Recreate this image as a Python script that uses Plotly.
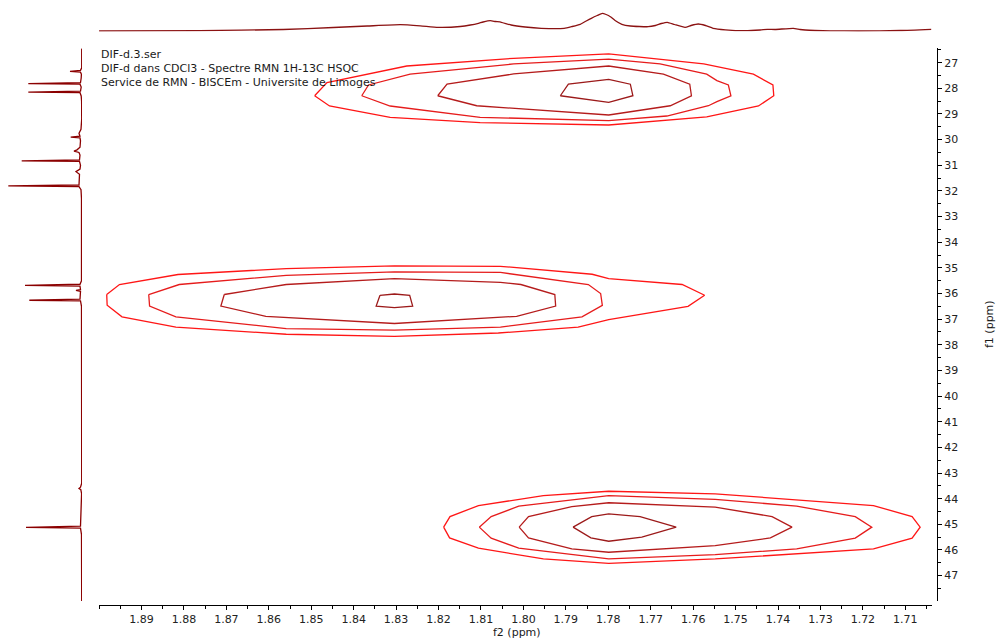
import plotly.graph_objects as go

W, H = 999, 639
FONT = "DejaVu Sans, Verdana, sans-serif"

# ---------------- axis ticks ----------------
X_TICKS = [1.71, 1.72, 1.73, 1.74, 1.75, 1.76, 1.77, 1.78, 1.79, 1.80,
           1.81, 1.82, 1.83, 1.84, 1.85, 1.86, 1.87, 1.88, 1.89]
X_MINOR = [1.705, 1.715, 1.725, 1.735, 1.745, 1.755, 1.765, 1.775, 1.785, 1.795,
           1.805, 1.815, 1.825, 1.835, 1.845, 1.855, 1.865, 1.875, 1.885, 1.895, 1.900]
Y_TICKS = [27, 28, 29, 30, 31, 32, 33, 34, 35, 36, 37, 38, 39, 40, 41, 42, 43, 44, 45, 46, 47]
Y_MINOR = [26.5, 27.5, 28.5, 29.5, 30.5, 31.5, 32.5, 33.5, 34.5, 35.5, 36.5, 37.5,
           38.5, 39.5, 40.5, 41.5, 42.5, 43.5, 44.5, 45.5, 46.5, 47.5]

# ---------------- contour polygons (f2 ppm, f1 ppm) ----------------
# cross peak 1  (~1.78 / 28.3)
P1_L1_F2 = [1.8492, 1.8463, 1.8275, 1.8023, 1.7799, 1.7575, 1.7458, 1.7412, 1.7410, 1.7446, 1.7568, 1.7799, 1.8102, 1.8314, 1.8457]
P1_L1_F1 = [28.29, 27.78, 27.13, 26.83, 26.66, 27.05, 27.45, 27.87, 28.29, 28.69, 29.11, 29.43, 29.34, 29.13, 28.69]
P1_L2_F2 = [1.8381, 1.8365, 1.8267, 1.8023, 1.7799, 1.7678, 1.7568, 1.7544, 1.7517, 1.7511, 1.7544, 1.7564, 1.7662, 1.7799, 1.8102, 1.8314]
P1_L2_F1 = [28.29, 27.87, 27.45, 27.05, 26.86, 27.05, 27.45, 27.70, 27.87, 28.29, 28.52, 28.68, 29.08, 29.26, 29.13, 28.69]
P1_L3_F2 = [1.8202, 1.8180, 1.8023, 1.7799, 1.7670, 1.7608, 1.7604, 1.7654, 1.7799, 1.8110]
P1_L3_F1 = [28.29, 27.84, 27.44, 27.13, 27.45, 27.84, 28.29, 28.68, 29.04, 28.68]
P1_L4_F2 = [1.7913, 1.7894, 1.7799, 1.7748, 1.7742, 1.7799]
P1_L4_F1 = [28.29, 27.84, 27.65, 27.84, 28.29, 28.55]

# cross peak 2  (~1.83 / 36.1)
P2_L1_F2 = [1.8982, 1.8952, 1.8814, 1.8559, 1.8304, 1.8054, 1.7838, 1.7799, 1.7626, 1.7573, 1.7612, 1.7799, 1.7871, 1.8059, 1.8304, 1.8559, 1.8819, 1.8946, 1.8981]
P2_L1_F1 = [36.04, 35.65, 35.26, 35.03, 34.92, 34.94, 35.25, 35.42, 35.65, 36.07, 36.50, 37.02, 37.31, 37.54, 37.67, 37.59, 37.31, 36.91, 36.46]
P2_L2_F2 = [1.8883, 1.8811, 1.8559, 1.8304, 1.8054, 1.7847, 1.7818, 1.7814, 1.7862, 1.8054, 1.8304, 1.8559, 1.8819, 1.8881]
P2_L2_F1 = [36.04, 35.65, 35.29, 35.16, 35.18, 35.65, 36.00, 36.46, 36.91, 37.31, 37.43, 37.37, 36.91, 36.49]
P2_L3_F2 = [1.8705, 1.8713, 1.8607, 1.8304, 1.8016, 1.7924, 1.7926, 1.8006, 1.8054, 1.8304, 1.8559]
P2_L3_F1 = [36.04, 36.49, 36.89, 37.17, 36.89, 36.49, 36.04, 35.65, 35.57, 35.42, 35.65]
P2_L4_F2 = [1.8338, 1.8347, 1.8304, 1.8261, 1.8268, 1.8304]
P2_L4_F1 = [36.07, 36.49, 36.55, 36.49, 36.07, 36.02]

# cross peak 3  (~1.78 / 45.1)
P3_L1_F2 = [1.8188, 1.8173, 1.8106, 1.7953, 1.7799, 1.7548, 1.7175, 1.7084, 1.7065, 1.7084, 1.7175, 1.7548, 1.7799, 1.7953, 1.8106, 1.8174]
P3_L1_F1 = [45.11, 44.70, 44.27, 43.88, 43.71, 43.81, 44.27, 44.70, 45.11, 45.54, 45.96, 46.35, 46.52, 46.35, 45.93, 45.53]
P3_L2_F2 = [1.8104, 1.8076, 1.8011, 1.7799, 1.7548, 1.7356, 1.7218, 1.7179, 1.7218, 1.7356, 1.7548, 1.7799, 1.8011, 1.8076]
P3_L2_F1 = [45.11, 44.70, 44.29, 43.88, 44.03, 44.29, 44.70, 45.11, 45.54, 45.96, 46.18, 46.35, 45.93, 45.54]
P3_L3_F2 = [1.8010, 1.7988, 1.7886, 1.7799, 1.7548, 1.7414, 1.7367, 1.7418, 1.7548, 1.7799, 1.7886, 1.7988]
P3_L3_F1 = [45.11, 44.70, 44.31, 44.16, 44.33, 44.70, 45.11, 45.53, 45.83, 46.09, 45.96, 45.53]
P3_L4_F2 = [1.7883, 1.7839, 1.7799, 1.7725, 1.7640, 1.7721, 1.7799, 1.7841]
P3_L4_F1 = [45.11, 44.70, 44.59, 44.70, 45.11, 45.50, 45.66, 45.53]

LEVEL_COLORS = ["#ff1616", "#e61c1c", "#b51c1c", "#9c1a1a"]

# ---------------- 1D projections ----------------
TOP_F2 = [1.9000, 1.8762, 1.8566, 1.8448, 1.8368, 1.8290, 1.8243, 1.8201, 1.8149, 1.8125,
          1.8106, 1.8095, 1.8078, 1.8066, 1.8052, 1.8029, 1.7996, 1.7958, 1.7904, 1.7885,
          1.7866, 1.7852, 1.7840, 1.7826, 1.7814, 1.7805, 1.7795, 1.7784, 1.7768, 1.7748,
          1.7706, 1.7689, 1.7675, 1.7661, 1.7644, 1.7619, 1.7605, 1.7588, 1.7571, 1.7553,
          1.7524, 1.7479, 1.7442, 1.7425, 1.7407, 1.7364, 1.7348, 1.7336, 1.7277, 1.7211,
          1.7112, 1.7039]
TOP_INT = [0.5, 0.8, 2.0, 4.0, 5.5, 6.8, 5.7, 4.2, 5.0, 6.5,
           8.2, 9.5, 10.8, 10.0, 9.2, 6.5, 4.5, 3.2, 3.2, 5.0,
           7.2, 10.5, 13.2, 16.0, 18.2, 17.0, 14.8, 11.0, 7.2, 5.5,
           4.8, 6.0, 8.0, 9.2, 7.0, 4.2, 6.0, 7.5, 6.0, 3.2,
           1.7, 0.8, 1.5, 2.2, 2.0, 3.2, 2.0, 1.5, 0.7, 0.5,
           1.0, 2.2]

LEFT_F1 = [26.45, 27.20, 27.30, 27.34, 27.37, 27.45, 27.60, 27.78, 27.816, 27.84,
           27.95, 28.11, 28.148, 28.17, 28.30, 28.50, 29.20, 29.60, 29.75, 29.87,
           29.90, 29.93, 30.05, 30.30, 30.40, 30.45, 30.50, 30.60, 30.79, 30.826,
           30.85, 31.00, 31.15, 31.25, 31.35, 31.60, 31.77, 31.802, 31.83, 31.95,
           32.10, 32.30, 35.50, 35.64, 35.68, 35.71, 35.85, 35.88, 35.92, 36.05,
           36.22, 36.264, 36.29, 36.50, 43.40, 43.55, 43.60, 43.65, 43.80, 45.07,
           45.118, 45.15, 45.40, 47.99]
LEFT_INT = [0.3, 0.3, 1.5, 12.0, 1.5, 0.6, 0.8, 1.5, 53.7, 2.0,
            0.8, 1.5, 53.7, 2.0, 0.8, 0.4, 0.3, 1.0, 3.0, 2.0,
            11.3, 2.0, 1.5, 2.0, 5.0, 8.0, 3.0, 2.0, 2.5, 60.3,
            2.5, 1.5, 2.0, 6.0, 2.5, 2.5, 3.0, 73.7, 3.0, 1.0,
            0.8, 0.5, 0.5, 2.0, 57.0, 2.0, 1.5, 6.0, 1.5, 1.5,
            2.0, 52.7, 1.5, 0.5, 0.3, 1.5, 3.0, 1.2, 0.4, 1.5,
            56.0, 1.5, 0.5, 0.3]

INFO_LINES = ["DIF-d.3.ser",
              "DIF-d dans CDCl3 - Spectre RMN 1H-13C HSQC",
              "Service de RMN - BISCEm - Universite de Limoges"]

CONTOURS = [
    (P1_L1_F2, P1_L1_F1, 0), (P1_L2_F2, P1_L2_F1, 1), (P1_L3_F2, P1_L3_F1, 2), (P1_L4_F2, P1_L4_F1, 3),
    (P2_L1_F2, P2_L1_F1, 0), (P2_L2_F2, P2_L2_F1, 1), (P2_L3_F2, P2_L3_F1, 2), (P2_L4_F2, P2_L4_F1, 3),
    (P3_L1_F2, P3_L1_F1, 0), (P3_L2_F2, P3_L2_F1, 1), (P3_L3_F2, P3_L3_F1, 2), (P3_L4_F2, P3_L4_F1, 3),
]

fig = go.Figure()
for f2, f1, lvl in CONTOURS:
    fig.add_trace(go.Scatter(x=f2 + [f2[0]], y=f1 + [f1[0]], mode="lines",
                             line=dict(color=LEVEL_COLORS[lvl], width=1.3),
                             xaxis="x", yaxis="y", hoverinfo="skip", showlegend=False))

fig.add_trace(go.Scatter(x=TOP_F2, y=TOP_INT, mode="lines",
                         line=dict(color="#8b1212", width=1.3, shape="spline", smoothing=0.5),
                         xaxis="x", yaxis="y2", hoverinfo="skip", showlegend=False))
fig.add_trace(go.Scatter(x=LEFT_INT, y=LEFT_F1, mode="lines",
                         line=dict(color="#8b0000", width=1.3),
                         xaxis="x3", yaxis="y", hoverinfo="skip", showlegend=False))

tickfont = dict(family=FONT, size=11, color="#222222")

fig.update_layout(
    width=W, height=H,
    margin=dict(l=0, r=0, t=0, b=0),
    paper_bgcolor="white", plot_bgcolor="white",
    showlegend=False,
    xaxis=dict(domain=[99 / W, 932 / W], range=[1.90002, 1.70371],
               anchor="free", position=1 - 605 / H,
               showline=True, linecolor="#000000", linewidth=1,
               ticks="outside", ticklen=4, tickwidth=1, tickcolor="#000000",
               tickmode="array", tickvals=X_TICKS, ticktext=[f"{v:.2f}" for v in X_TICKS],
               minor=dict(tickmode="array", tickvals=X_MINOR, ticks="outside", ticklen=3,
                          tickwidth=1, tickcolor="#000000", showgrid=False),
               showgrid=False, zeroline=False, tickfont=tickfont),
    yaxis=dict(domain=[1 - 601 / H, 1 - 48.3 / H], range=[47.99, 26.44],
               side="right", anchor="free", position=937 / W,
               showline=True, linecolor="#000000", linewidth=1,
               ticks="outside", ticklen=4, tickwidth=1, tickcolor="#000000",
               tickmode="array", tickvals=Y_TICKS, ticktext=[str(v) for v in Y_TICKS],
               minor=dict(tickmode="array", tickvals=Y_MINOR, ticks="outside", ticklen=3,
                          tickwidth=1, tickcolor="#000000", showgrid=False),
               showgrid=False, zeroline=False, tickfont=tickfont),
    yaxis2=dict(domain=[1 - 31.5 / H, 1 - 6.5 / H], range=[0, 25], anchor="x", visible=False),
    xaxis3=dict(domain=[2 / W, 82 / W], range=[80, 0], anchor="y", visible=False),
)

annotations = []
for i, line in enumerate(INFO_LINES):
    annotations.append(dict(text=line, xref="paper", yref="paper", x=99 / W, y=1 - (54.5 + 14.2 * i) / H,
                            xanchor="left", yanchor="middle", showarrow=False,
                            font=dict(family=FONT, size=11, color="#1a1a1a")))
annotations.append(dict(text="f2 (ppm)", xref="paper", yref="paper", x=517 / W, y=1 - 632.5 / H,
                        xanchor="center", yanchor="middle", showarrow=False,
                        font=dict(family=FONT, size=11, color="#1a1a1a")))
annotations.append(dict(text="f1 (ppm)", xref="paper", yref="paper", x=989 / W, y=1 - 324 / H,
                        xanchor="center", yanchor="middle", showarrow=False, textangle=-90,
                        font=dict(family=FONT, size=11, color="#1a1a1a")))
fig.update_layout(annotations=annotations)

fig.write_html("out.html", config={"displayModeBar": False},
               post_script="document.body.style.margin='0';document.body.style.overflow='hidden';")
